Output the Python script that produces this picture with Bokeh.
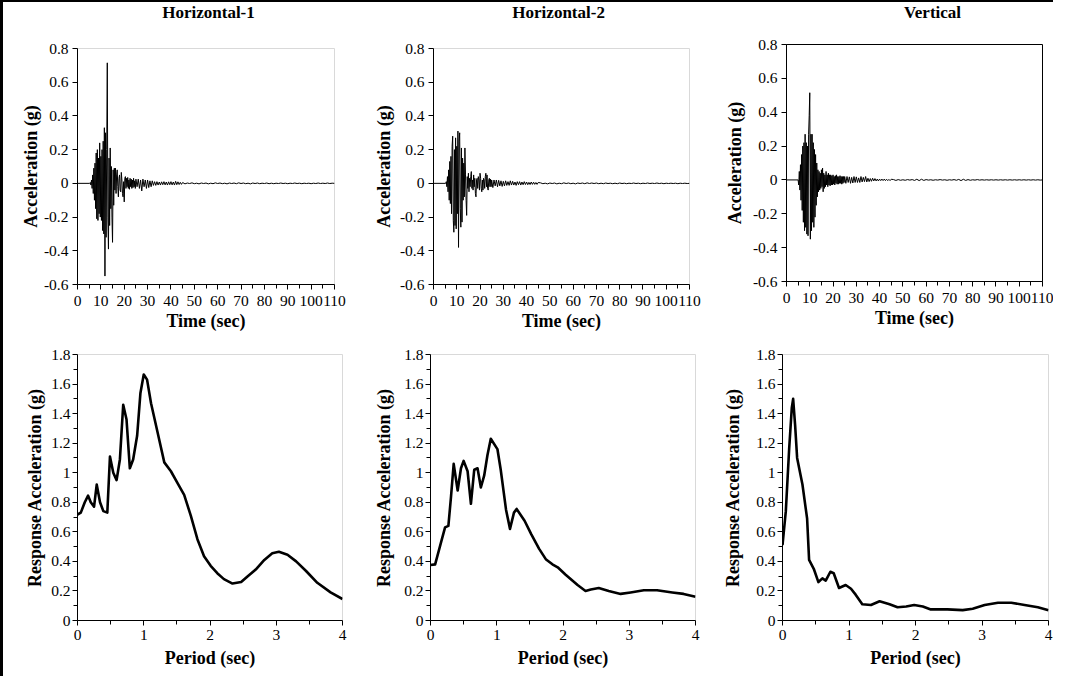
import numpy as np
from bokeh.plotting import figure
from bokeh.models import Range1d, FixedTicker, CustomJSTickFormatter, Spacer
from bokeh.core.properties import value
from bokeh.layouts import row, column
from bokeh.embed import file_html
from bokeh.resources import INLINE

FONT = "Liberation Serif"

# ---------------- data ----------------
TITLES = ["Horizontal-1", "Horizontal-2", "Vertical"]

# time grid of the accelerograms (s)
T_STRONG = np.arange(5.0, 25.0 + 1e-9, 0.25)
T_MID = np.arange(25.5, 45.0 + 1e-9, 0.5)
T_TAIL = np.arange(46.0, 110.0 + 1e-9, 1.0)
TIME = [0.0] + list(T_STRONG) + list(T_MID) + list(T_TAIL)

H1_STRONG = [
    0, 0, 0.005, -0.01, 0.02, -0.03, 0.05, -0.06,
    0.09, -0.10, 0.12, -0.15, 0.18, -0.21, 0.20, -0.22,
    0.15, -0.18, 0.24, -0.20, 0.16, -0.22, 0.20, -0.28,
    0.25, -0.30, 0.33, -0.55, 0.30, -0.32, 0.20, 0.715,
    -0.20, -0.39, 0.15, -0.25, 0.21, -0.15, 0.10, -0.20,
    -0.35, 0.08, -0.13, 0.09, -0.04, 0.09, -0.06, 0.05,
    0.08, -0.02, -0.08, 0.03, 0.05, -0.04, -0.05, 0.065,
    0.02, -0.06, -0.08, 0.01, -0.11, 0.03, 0.04, -0.03,
    0.03, -0.02, 0.035, -0.03, 0.02, -0.035, 0.03, -0.02,
    0.025, -0.03, 0.02, -0.025, 0.03, -0.02, 0.015, -0.03,
    0.025]
H1_MID = [
    -0.02, 0.025, -0.03, 0.02, -0.045, 0.025, -0.02, 0.02,
    -0.03, 0.02, -0.025, 0.015, -0.02, 0.015, -0.012, 0.01,
    -0.012, 0.01, -0.01, 0.008, -0.01, 0.009, -0.008, 0.01,
    -0.009, 0.008, -0.01, 0.009, -0.008, 0.01, -0.009, 0.008,
    -0.01, 0.012, -0.008, 0.009, -0.007, 0.006, -0.006, 0.005]
H1_TAIL = [
    -0.003, 0.002, -0.001, 0.003, -0.002, 0.001, -0.003, 0.002,
    -0.001, 0.002, -0.003, 0.001, -0.002, 0.003, -0.001, 0.002,
    -0.002, 0.001, -0.003, 0.002, -0.001, 0.002, -0.002, 0.003,
    -0.001, 0.002, -0.002, 0.001, -0.003, 0.002, -0.001, 0.002,
    -0.002, 0.001, -0.001, 0.002, -0.002, 0.001, -0.002, 0.001,
    -0.001, 0.002, -0.001, 0.001, -0.002, 0.001, -0.001, 0.002,
    -0.001, 0.001, -0.002, 0.001, -0.001, 0.001, -0.002, 0.001,
    -0.001, 0.002, -0.001, 0.001, -0.001, 0.002, -0.001, 0.001,
    0.0]

H2_STRONG = [
    0, 0, 0.01, -0.02, 0.04, -0.05, 0.08, -0.10,
    0.13, -0.12, 0.16, -0.18, 0.22, 0.28, -0.22, -0.29,
    0.20, -0.25, 0.27, -0.27, 0.22, -0.18, 0.31, -0.38,
    0.25, 0.30, -0.15, -0.26, 0.21, -0.23, 0.15, -0.10,
    0.12, -0.08, 0.21, 0.05, -0.10, -0.19, 0.04, -0.03,
    0.06, -0.05, 0.03, -0.02, 0.04, 0.07, -0.03, 0.02,
    -0.04, 0.05, -0.02, 0.03, -0.06, -0.08, 0.02, 0.03,
    -0.03, 0.04, 0.02, -0.04, 0.06, 0.03, -0.03, -0.05,
    0.02, -0.04, 0.03, 0.02, -0.03, 0.04, 0.06, -0.02,
    0.05, -0.03, -0.04, 0.02, 0.03, -0.02, 0.025, -0.02,
    0.02]
H2_MID = [
    -0.025, 0.02, -0.015, 0.02, -0.02, 0.018, -0.015, 0.015,
    -0.018, 0.012, -0.015, 0.015, -0.012, 0.01, -0.012, 0.015,
    -0.01, 0.012, -0.01, 0.008, -0.012, 0.01, -0.008, 0.01,
    -0.01, 0.008, -0.008, 0.01, -0.007, 0.008, -0.008, 0.006,
    -0.007, 0.008, -0.006, 0.007, -0.006, 0.005, -0.006, 0.005]
H2_TAIL = [
    0.003, -0.002, 0.001, -0.003, 0.002, -0.001, 0.002, -0.003,
    0.001, -0.002, 0.003, -0.001, 0.002, -0.002, 0.001, -0.003,
    0.002, -0.001, 0.002, -0.002, 0.003, -0.001, 0.002, -0.001,
    0.002, -0.002, 0.001, -0.002, 0.002, -0.001, 0.001, -0.002,
    0.001, -0.002, 0.002, -0.001, 0.001, -0.002, 0.001, -0.001,
    0.002, -0.001, 0.001, -0.002, 0.001, -0.001, 0.002, -0.001,
    0.001, -0.001, 0.002, -0.001, 0.001, -0.002, 0.001, -0.001,
    0.001, -0.001, 0.001, -0.002, 0.001, -0.001, 0.001, -0.001,
    0.0]

V_STRONG = [
    0, -0.03, 0.05, -0.06, 0.09, -0.12, 0.15, -0.18,
    0.20, -0.25, 0.22, -0.30, 0.27, -0.28, 0.22, -0.32,
    0.20, -0.33, 0.27, 0.38, 0.515, -0.35, 0.27, -0.30,
    0.27, -0.25, 0.22, -0.28, 0.18, -0.22, 0.15, -0.15,
    0.10, -0.10, 0.06, -0.07, 0.05, -0.06, 0.04, -0.05,
    0.06, -0.04, 0.07, -0.07, 0.04, -0.05, 0.03, -0.04,
    0.05, -0.03, 0.03, -0.04, 0.04, -0.03, 0.03, -0.035,
    0.03, -0.03, 0.025, -0.03, 0.03, -0.025, 0.02, -0.03,
    0.025, -0.02, 0.03, -0.025, 0.02, -0.025, 0.02, -0.02,
    0.025, -0.02, 0.02, -0.025, 0.02, -0.02, 0.02, -0.015,
    0.02]
V_MID = [
    -0.02, 0.02, -0.015, 0.018, -0.02, 0.015, -0.018, 0.02,
    -0.015, 0.018, -0.015, 0.012, -0.015, 0.02, -0.012, 0.015,
    -0.01, 0.02, -0.012, 0.01, -0.01, 0.008, -0.008, 0.01,
    -0.006, 0.008, -0.006, 0.005, -0.006, 0.005, -0.004, 0.005,
    -0.004, 0.005, -0.004, 0.004, -0.004, 0.003, -0.004, 0.004]
V_TAIL = [
    0.002, -0.003, 0.002, -0.002, 0.001, -0.002, 0.002, -0.001,
    0.002, -0.003, 0.004, -0.004, 0.004, -0.003, 0.002, -0.001,
    0.001, -0.002, 0.001, -0.001, 0.002, -0.001, 0.001, -0.002,
    0.001, -0.001, 0.002, -0.002, 0.003, -0.004, 0.004, -0.003,
    0.002, -0.002, 0.001, -0.001, 0.002, -0.001, 0.001, -0.001,
    0.001, -0.001, 0.001, -0.001, 0.001, -0.001, 0.001, -0.001,
    0.001, -0.001, 0.001, -0.001, 0.001, -0.001, 0.001, -0.001,
    0.001, -0.001, 0.001, -0.001, 0.001, -0.001, 0.001, -0.001,
    0.0]

ACC_H1 = [0.0] + H1_STRONG + H1_MID + H1_TAIL
ACC_H2 = [0.0] + H2_STRONG + H2_MID + H2_TAIL
ACC_V = [0.0] + V_STRONG + V_MID + V_TAIL

# response spectra
H1_PERIOD = [0, 0.05, 0.11, 0.16, 0.2, 0.25, 0.29, 0.34, 0.39, 0.45, 0.49, 0.54,
             0.59, 0.64, 0.69, 0.74, 0.79, 0.84, 0.9, 0.95, 1.0, 1.05, 1.11, 1.21,
             1.31, 1.41, 1.51, 1.61, 1.71, 1.81, 1.91, 2.01, 2.11, 2.21, 2.34, 2.47,
             2.57, 2.69, 2.82, 2.94, 3.04, 3.17, 3.3, 3.45, 3.62, 3.82, 4.0]
H1_SA = [0.717, 0.73, 0.8, 0.845, 0.8, 0.77, 0.92, 0.8, 0.74, 0.73, 1.11, 1.0,
         0.95, 1.09, 1.46, 1.36, 1.03, 1.09, 1.25, 1.54, 1.665, 1.63, 1.47, 1.27,
         1.07, 1.01, 0.93, 0.85, 0.71, 0.55, 0.435, 0.37, 0.32, 0.28, 0.25, 0.26,
         0.3, 0.345, 0.41, 0.455, 0.465, 0.445, 0.4, 0.335, 0.255, 0.19, 0.145]

H2_PERIOD = [0, 0.07, 0.16, 0.22, 0.27, 0.31, 0.35, 0.41, 0.46, 0.5, 0.56, 0.61,
             0.66, 0.71, 0.76, 0.81, 0.86, 0.91, 1.01, 1.06, 1.14, 1.2, 1.26, 1.3,
             1.42, 1.52, 1.64, 1.74, 1.84, 1.92, 2.04, 2.22, 2.34, 2.42, 2.54, 2.69,
             2.87, 3.02, 3.22, 3.42, 3.65, 3.82, 4.0]
H2_SA = [0.375, 0.38, 0.53, 0.63, 0.64, 0.84, 1.06, 0.88, 1.03, 1.08, 1.01, 0.79,
         1.02, 1.03, 0.9, 0.98, 1.12, 1.23, 1.16, 1.02, 0.75, 0.62, 0.73, 0.755,
         0.675, 0.585, 0.485, 0.415, 0.38, 0.36, 0.31, 0.24, 0.2, 0.21, 0.22, 0.2,
         0.18, 0.19, 0.205, 0.205, 0.19, 0.18, 0.16]

V_PERIOD = [0, 0.05, 0.1, 0.14, 0.16, 0.19, 0.22, 0.3, 0.37, 0.4, 0.47, 0.54,
            0.6, 0.65, 0.72, 0.77, 0.85, 0.95, 1.03, 1.1, 1.2, 1.33, 1.46, 1.61,
            1.73, 1.86, 1.98, 2.11, 2.23, 2.48, 2.71, 2.86, 3.04, 3.24, 3.44, 3.64,
            3.84, 4.0]
V_SA = [0.51, 0.74, 1.16, 1.44, 1.5, 1.32, 1.1, 0.92, 0.69, 0.41, 0.35, 0.26,
        0.285, 0.27, 0.33, 0.32, 0.22, 0.24, 0.215, 0.175, 0.11, 0.105, 0.13, 0.11,
        0.09, 0.095, 0.105, 0.095, 0.075, 0.075, 0.07, 0.08, 0.105, 0.12, 0.12, 0.105,
        0.09, 0.07]

TIME_TICKS = [0, 10, 20, 30, 40, 50, 60, 70, 80, 90, 100, 110]
TIME_MINOR = [5, 15, 25, 35, 45, 55, 65, 75, 85, 95, 105]
ACC_TICKS = [-0.6, -0.4, -0.2, 0, 0.2, 0.4, 0.6, 0.8]
PERIOD_TICKS = [0, 1, 2, 3, 4]
PERIOD_MINOR = [0.5, 1.5, 2.5, 3.5]
SA_TICKS = [0, 0.2, 0.4, 0.6, 0.8, 1, 1.2, 1.4, 1.6, 1.8]
SA_MINOR = [0.1, 0.3, 0.5, 0.7, 0.9, 1.1, 1.3, 1.5, 1.7]

# ---------------- helpers ----------------
FMT = "return Number(tick.toFixed(2)).toString();"
GRAY = "#d9d9d9"


def make_fig(w, h, left, right, top, bottom, xr, yr, outline):
    p = figure(width=w, height=h, x_range=Range1d(*xr), y_range=Range1d(*yr),
               output_backend="svg", toolbar_location=None,
               min_border_left=left, min_border_right=right,
               min_border_top=top, min_border_bottom=bottom)
    p.grid.visible = False
    p.outline_line_color = outline
    p.outline_line_width = 1
    p.background_fill_color = "white"
    p.border_fill_color = "white"
    return p


def style_axis(ax, ticks, minor, label, lab_standoff, ax_standoff):
    ax.ticker = FixedTicker(ticks=ticks, minor_ticks=minor)
    ax.formatter = CustomJSTickFormatter(code=FMT)
    ax.axis_label = label
    ax.axis_label_text_font = FONT
    ax.axis_label_text_font_size = "18px"
    ax.axis_label_text_font_style = "bold"
    ax.axis_label_text_color = "black"
    ax.axis_label_standoff = ax_standoff
    ax.major_label_text_font = FONT
    ax.major_label_text_font_size = "15.5px"
    ax.major_label_text_color = "black"
    ax.major_label_standoff = lab_standoff
    ax.axis_line_color = "black"
    ax.axis_line_width = 1
    ax.major_tick_line_color = "black"
    ax.minor_tick_line_color = "black"
    ax.major_tick_in = 0
    ax.major_tick_out = 5
    ax.minor_tick_in = 0
    ax.minor_tick_out = 4


def title_fig(w, h, text, cx, cy):
    # a strip holding the panel title, in pixel coordinates
    t = figure(width=w, height=h, x_range=Range1d(0, w), y_range=Range1d(0, h),
               output_backend="svg", toolbar_location=None, min_border=0,
               x_axis_type=None, y_axis_type=None)
    t.outline_line_color = None
    t.grid.visible = False
    t.border_fill_color = "white"
    t.text(x=[cx], y=[h - cy], text=[text], text_align="center",
           text_baseline="middle", text_font=value(FONT),
           text_font_size="17px", text_font_style="bold", text_color="black")
    return t


TITLE_H = 24

# top row: accelerograms
top_specs = [
    # w, h, left, right, top, bottom, outline, title centre x, y-label standoff, record
    (361, 312, 74, 30, 22, 54, GRAY, 184, 0, ACC_H1),
    (356, 312, 69, 31, 22, 54, GRAY, 174, 3, ACC_H2),
    (333, 312, 66, 11, 18, 57, "black", 190, 5, ACC_V),
]
top_cells = []
for (w, h, l, r, t, b, oc, tcx, yso, rec), ttl in zip(top_specs, TITLES):
    p = make_fig(w, h, l, r, t, b, (0, 110), (-0.6, 0.8), oc)
    style_axis(p.xaxis[0], TIME_TICKS, TIME_MINOR, "Time (sec)", 6, 2)
    style_axis(p.yaxis[0], ACC_TICKS, [], "Acceleration (g)", 4, yso)
    p.line(TIME, rec, line_color="black", line_width=1)
    top_cells.append(column(title_fig(w, TITLE_H, ttl, tcx, 10), p))

# bottom row: response spectra
bot_specs = [
    # w, h, left, right, top, bottom, y-label standoff, periods, values
    (361, 338, 74, 22, 16, 56, 3, H1_PERIOD, H1_SA),
    (356, 338, 66, 25, 16, 56, 7, H2_PERIOD, H2_SA),
    (333, 338, 62, 5, 16, 56, 10, V_PERIOD, V_SA),
]
bot_figs = []
for (w, h, l, r, t, b, yso, per, sa) in bot_specs:
    p = make_fig(w, h, l, r, t, b, (0, 4), (0, 1.8), GRAY)
    style_axis(p.xaxis[0], PERIOD_TICKS, PERIOD_MINOR, "Period (sec)", 4, 5)
    style_axis(p.yaxis[0], SA_TICKS, SA_MINOR, "Response Acceleration (g)", 2, yso)
    p.line(per, sa, line_color="black", line_width=2.6, line_join="round")
    bot_figs.append(p)

grid = column(row(*top_cells), row(*bot_figs))
frame_top = Spacer(width=1053, height=2, styles={"background-color": "black"})
frame_left = Spacer(width=3, height=674, styles={"background-color": "black"})
layout = column(frame_top, row(frame_left, grid), styles={"margin-bottom": "-12px"})

open("out.html", "w").write(file_html(layout, INLINE))
